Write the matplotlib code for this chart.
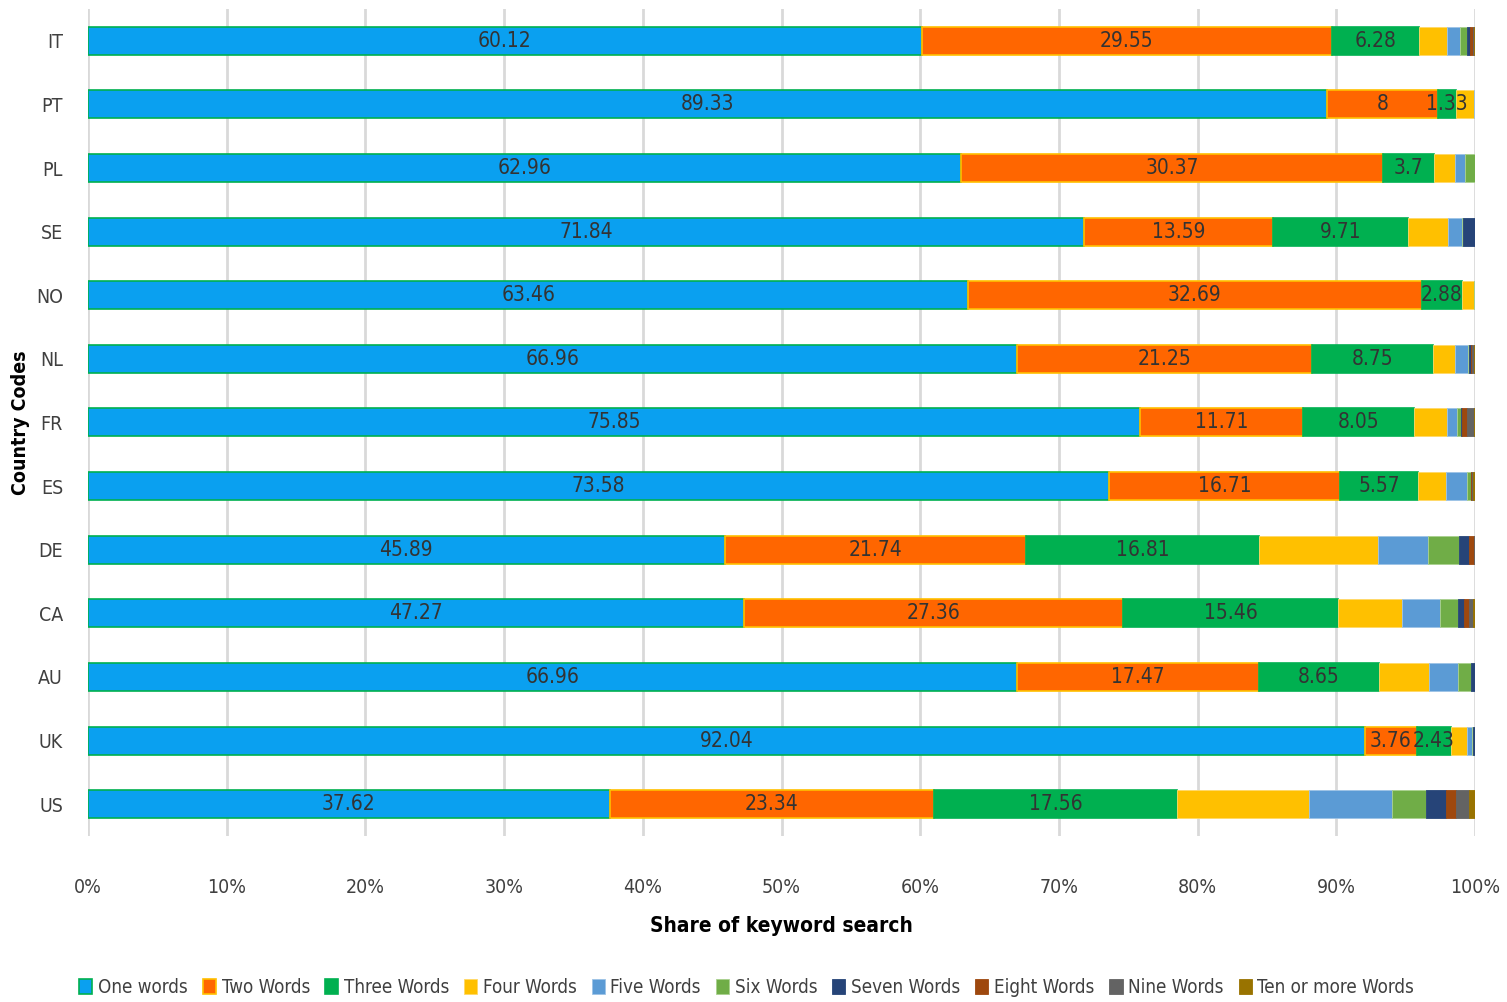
import numpy as np
import matplotlib.pyplot as plt
from matplotlib.ticker import PercentFormatter

plt.rcParams['font.family'] = ['DejaVu Sans']
plt.rcParams['font.stretch'] = 'condensed'

# Dados (de baixo para cima)
paises = ['US', 'UK', 'AU', 'CA', 'DE', 'ES', 'FR', 'NL', 'NO', 'SE', 'PL', 'PT', 'IT']

one_words = [37.62, 92.04, 66.96, 47.27, 45.89, 73.58, 75.85, 66.96, 63.46, 71.84, 62.96, 89.33, 60.12]
two_words = [23.34, 3.76, 17.47, 27.36, 21.74, 16.71, 11.71, 21.25, 32.69, 13.59, 30.37, 8, 29.55]
three_words = [17.56, 2.43, 8.65, 15.46, 16.81, 5.57, 8.05, 8.75, 2.88, 9.71, 3.7, 1.33, 6.28]
four_words = [9.52, 1.2, 3.6, 4.64, 8.55, 2.04, 2.4, 1.56, 0.9, 2.93, 1.5, 1.3, 2.0]
five_words = [5.95, 0.35, 2.09, 2.71, 3.65, 1.51, 0.72, 1.0, 0.0, 1.0, 0.78, 0.04, 0.95]
six_words = [2.48, 0.05, 0.94, 1.3, 2.19, 0.3, 0.24, 0.05, 0.07, 0.05, 0.69, 0.0, 0.55]
seven_words = [1.4, 0.17, 0.27, 0.48, 0.76, 0.0, 0.12, 0.13, 0.0, 0.88, 0.0, 0.0, 0.15]
eight_words = [0.76, 0.0, 0.0, 0.34, 0.34, 0.07, 0.36, 0.1, 0.0, 0.0, 0.0, 0.0, 0.25]
nine_words = [0.94, 0.0, 0.0, 0.29, 0.05, 0.07, 0.48, 0.12, 0.0, 0.0, 0.0, 0.0, 0.1]
ten_words = [0.43, 0.0, 0.0, 0.17, 0.02, 0.15, 0.07, 0.08, 0.0, 0.0, 0.0, 0.0, 0.05]

series = [one_words, two_words, three_words, four_words, five_words,
          six_words, seven_words, eight_words, nine_words, ten_words]
nomes = ['One words', 'Two Words', 'Three Words', 'Four Words', 'Five Words',
         'Six Words', 'Seven Words', 'Eight Words', 'Nine Words', 'Ten or more Words']
cores = ['#0aa0f0', '#ff6600', '#00b050', '#ffc000', '#5b9bd5',
         '#70ad47', '#264478', '#9e480e', '#636363', '#997300']
bordas = ['#00b050', '#ffc000', '#00b050', '#ffd966', '#9dc3e6',
          '#a9d18e', '#264478', '#9e480e', '#636363', '#997300']

fig = plt.figure(figsize=(15.07, 10.02), dpi=100)
ax = fig.add_axes([0.0584, 0.1657, 0.9204, 0.8253])

y = np.arange(len(paises))
esquerda = np.zeros(len(paises))
for i, (vals, nome, cor, borda) in enumerate(zip(series, nomes, cores, bordas)):
    vals = np.array(vals)
    ax.barh(y, vals, left=esquerda, height=0.44, color=cor,
            edgecolor=borda, linewidth=1.2 if i < 3 else 0.6, label=nome, zorder=3)
    if i < 3:
        # rótulos centrados nos três primeiros segmentos
        for j, v in enumerate(vals):
            ax.text(esquerda[j] + v / 2, y[j], f'{v:g}', ha='center', va='center',
                    fontsize=15, color='#333333', zorder=4)
    esquerda += vals

ax.set_xlim(0, 100)
ax.set_ylim(-0.5, len(paises) - 0.5)
ax.set_xticks(np.arange(0, 101, 10))
ax.xaxis.set_major_formatter(PercentFormatter(decimals=0))
ax.set_yticks(y)
ax.set_yticklabels(paises)
ax.tick_params(axis='both', length=0, labelsize=14, labelcolor='#404040')
ax.tick_params(axis='x', pad=30)
ax.tick_params(axis='y', pad=18)

ax.grid(axis='x', color='#d9d9d9', linewidth=2, zorder=0)
for s in ax.spines.values():
    s.set_visible(False)

ax.set_xlabel('Share of keyword search', fontsize=15, fontweight='bold', labelpad=14)
ax.set_ylabel('Country Codes', fontsize=14, fontweight='bold', labelpad=4)

ax.legend(loc='lower center', bbox_to_anchor=(0.475, -0.215), ncol=10, frameon=False,
          fontsize=13.5, handlelength=0.7, handleheight=0.9, handletextpad=0.3,
          columnspacing=0.8, labelcolor='#404040')

plt.savefig('out.png', dpi=100)
